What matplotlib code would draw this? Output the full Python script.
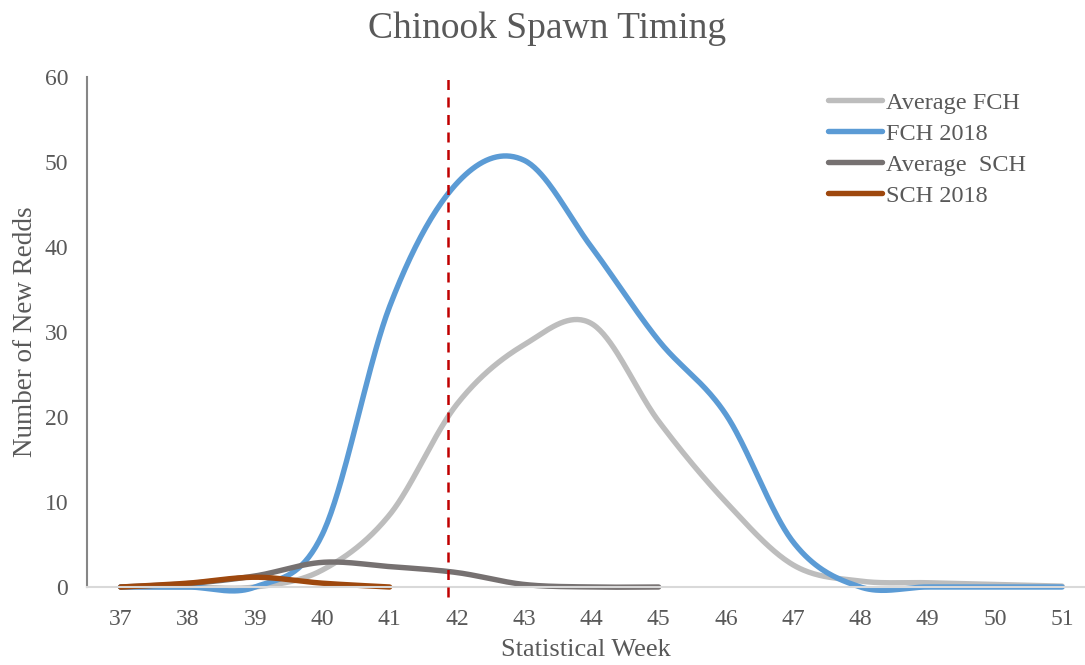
import numpy as np
import matplotlib
matplotlib.use("Agg")
import matplotlib.pyplot as plt

# ---- data ----
weeks = [37, 38, 39, 40, 41, 42, 43, 44, 45, 46, 47, 48, 49, 50, 51]
avg_fch = [0, 0, 0, 2.0, 8.5, 21.5, 28.5, 31, 19.5, 10, 2.6, 0.7, 0.5, 0.3, 0.1]
fch_2018 = [0, 0, 0, 6.2, 33, 47.5, 50.2, 40, 29, 20.3, 5.3, 0, 0, 0, 0]
sch_weeks = [37, 38, 39, 40, 41, 42, 43, 44, 45]
avg_sch = [0, 0.4, 1.3, 2.9, 2.4, 1.7, 0.3, 0, 0]
sch18_weeks = [37, 38, 39, 40, 41]
sch_2018 = [0, 0.45, 1.15, 0.45, 0]
cutoff_week = 41.87

series_labels = ["Average FCH", "FCH 2018", "Average  SCH", "SCH 2018"]
colors = ["#BDBDBD", "#5B9BD5", "#767171", "#9E480E"]
yticks = [0, 10, 20, 30, 40, 50, 60]

TXT = "#595959"
plt.rcParams['font.family'] = ['Liberation Serif', 'DejaVu Serif']


def smooth(x, y, n=40):
    """Excel-like smoothed line (Catmull-Rom via cubic Bezier)."""
    x = np.asarray(x, float)
    y = np.asarray(y, float)
    P = np.column_stack([x, y])
    Pext = np.vstack([P[0], P, P[-1]])
    out = []
    t = np.linspace(0, 1, n)[:, None]
    for i in range(len(P) - 1):
        p0, p1, p2, p3 = Pext[i], Pext[i + 1], Pext[i + 2], Pext[i + 3]
        c1 = p1 + (p2 - p0) / 6.0
        c2 = p2 - (p3 - p1) / 6.0
        seg = ((1 - t) ** 3) * p1 + 3 * ((1 - t) ** 2) * t * c1 + 3 * (1 - t) * t ** 2 * c2 + t ** 3 * p2
        out.append(seg if i == 0 else seg[1:])
    out = np.vstack(out)
    return out[:, 0], out[:, 1]


fig = plt.figure(figsize=(10.85, 6.65), dpi=100)
ax = fig.add_axes([87 / 1085, (665 - 587) / 665, 998 / 1085, 510 / 665])

data = [(weeks, avg_fch), (weeks, fch_2018), (sch_weeks, avg_sch), (sch18_weeks, sch_2018)]
for (xs, ys), lab, col in zip(data, series_labels, colors):
    sx, sy = smooth(xs, ys)
    ax.plot(sx, sy, color=col, lw=3.9, label=lab, solid_capstyle='round', clip_on=False)

ax.plot([cutoff_week, cutoff_week], [-1.2, 60], color="#C00000", lw=1.8,
        dashes=(4, 3), clip_on=False, zorder=5)

ax.set_xlim(36.5, 51.34)
ax.set_ylim(0, 60)
ax.set_xticks(weeks)
ax.set_xticklabels([str(w) for w in weeks])
ax.set_yticks(yticks)
ax.set_yticklabels([str(v) for v in yticks])
ax.tick_params(axis='both', length=0, labelsize=17, colors=TXT)
ax.tick_params(axis='x', pad=16)
ax.tick_params(axis='y', pad=13.5)

for s in ['top', 'right']:
    ax.spines[s].set_visible(False)
ax.spines['left'].set_color('#868686')
ax.spines['left'].set_linewidth(1.5)
ax.spines['bottom'].set_color('#D9D9D9')
ax.spines['bottom'].set_linewidth(1.5)

ax.set_xlabel("Statistical Week", fontsize=19, color=TXT, labelpad=6.5)
ax.set_ylabel("Number of New Redds", fontsize=19.5, color=TXT, labelpad=5)
fig.text(547 / 1085, 1 - 29 / 665, "Chinook Spawn Timing", ha='center', va='center',
         fontsize=27, color=TXT)

leg = ax.legend(loc='upper left', bbox_to_anchor=(828 / 1085, 1 - 91.5 / 665),
                bbox_transform=fig.transFigure, frameon=False, fontsize=17.5,
                handlelength=2.22, handletextpad=0.16, labelspacing=0.37,
                borderaxespad=0, borderpad=0)
for t in leg.get_texts():
    t.set_color(TXT)

fig.savefig("out.png", dpi=100)
